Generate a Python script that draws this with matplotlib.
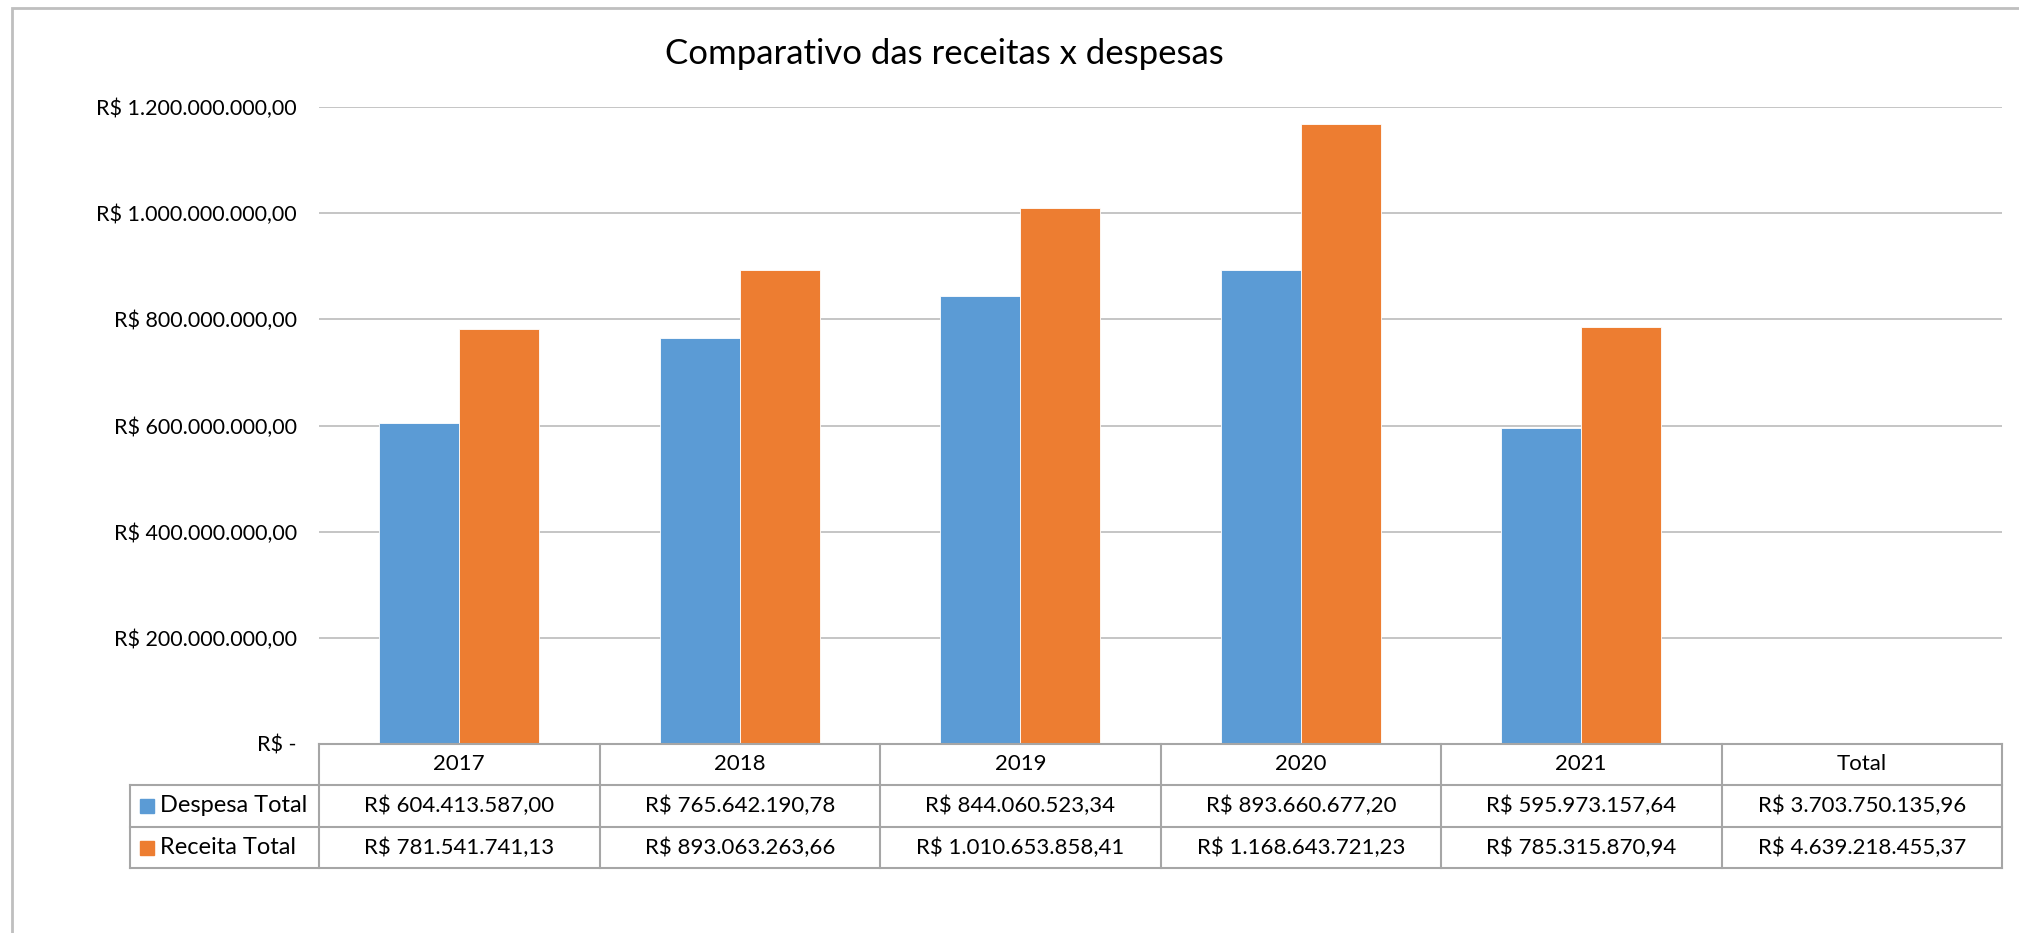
import matplotlib.pyplot as plt
import numpy as np
from matplotlib.patches import Rectangle

plt.rcParams['font.family'] = ['Lato', 'DejaVu Sans']

# dados
anos = ["2017", "2018", "2019", "2020", "2021"]
colunas = anos + ["Total"]
despesa = [604413587.00, 765642190.78, 844060523.34, 893660677.20, 595973157.64]
receita = [781541741.13, 893063263.66, 1010653858.41, 1168643721.23, 785315870.94]
despesa_txt = ["R$ 604.413.587,00", "R$ 765.642.190,78", "R$ 844.060.523,34",
               "R$ 893.660.677,20", "R$ 595.973.157,64", "R$ 3.703.750.135,96"]
receita_txt = ["R$ 781.541.741,13", "R$ 893.063.263,66", "R$ 1.010.653.858,41",
               "R$ 1.168.643.721,23", "R$ 785.315.870,94", "R$ 4.639.218.455,37"]
y_ticks = [0, 200e6, 400e6, 600e6, 800e6, 1000e6, 1200e6]
y_labels = ["R$ -", "R$ 200.000.000,00", "R$ 400.000.000,00", "R$ 600.000.000,00",
            "R$ 800.000.000,00", "R$ 1.000.000.000,00", "R$ 1.200.000.000,00"]

azul = "#5B9BD5"
laranja = "#ED7D31"
cinza = "#A6A6A6"
fs = 16

W, H = 2019, 933
fig = plt.figure(figsize=(W / 100, H / 100), dpi=100)

# moldura do gráfico
fig.patches.append(Rectangle((12 / W, -0.1), 1.2, 1 - 8 / H + 0.1, transform=fig.transFigure,
                             fill=False, edgecolor="#BFBFBF", linewidth=2))

left, right, top, bottom = 319, 2002, 107, 744
ax = fig.add_axes([left / W, 1 - bottom / H, (right - left) / W, (bottom - top) / H])

x = np.arange(len(anos))
w = 0.285
ax.bar(x - w / 2, despesa, w, color=azul, edgecolor="white", linewidth=0.6, zorder=2)
ax.bar(x + w / 2, receita, w, color=laranja, edgecolor="white", linewidth=0.6, zorder=2)

ax.set_xlim(-0.5, len(colunas) - 0.5)
ax.set_ylim(0, 1200e6)
ax.set_yticks(y_ticks)
ax.set_yticklabels(y_labels, fontsize=15.5)
ax.tick_params(axis="y", length=0, pad=16)
ax.set_xticks([])
ax.grid(axis="y", color="#C0C0C0", linewidth=1.3, zorder=0)
for s in ax.spines.values():
    s.set_visible(False)

fig.text(944 / W, 1 - 54 / H, "Comparativo das receitas x despesas", fontsize=25,
         ha="center", va="center")

# tabela de dados
ph = bottom - top
rows = [0, -41 / ph, -83 / ph, -124 / ph]
x0 = -0.5 - (left - 130) * len(colunas) / (right - left)
xe = len(colunas) - 0.5
tr = ax.get_xaxis_transform()
kw = dict(color=cinza, linewidth=1.5, clip_on=False, transform=tr)

ax.plot([-0.5, xe], [rows[0], rows[0]], **kw)
for r in rows[1:]:
    ax.plot([x0, xe], [r, r], **kw)
ax.plot([x0, x0], [rows[1], rows[3]], **kw)
for i in range(len(colunas) + 1):
    xi = i - 0.5
    ax.plot([xi, xi], [rows[0], rows[3]], **kw)

for i, c in enumerate(colunas):
    ax.text(i, (rows[0] + rows[1]) / 2, c, transform=tr, ha="center", va="center", fontsize=fs)
    ax.text(i, (rows[1] + rows[2]) / 2, despesa_txt[i], transform=tr, ha="center", va="center", fontsize=fs)
    ax.text(i, (rows[2] + rows[3]) / 2, receita_txt[i], transform=tr, ha="center", va="center", fontsize=fs)

px = (len(colunas)) / (right - left)
for (nome, cor, r0, r1) in [("Despesa Total", azul, rows[1], rows[2]),
                            ("Receita Total", laranja, rows[2], rows[3])]:
    ym = (r0 + r1) / 2
    ax.add_patch(Rectangle((x0 + 10 * px, ym - 7 / ph), 14 * px, 14 / ph, transform=tr,
                           color=cor, clip_on=False))
    ax.text(x0 + 30 * px, ym, nome, transform=tr, ha="left", va="center", fontsize=17)

fig.savefig("out.png", dpi=100)
